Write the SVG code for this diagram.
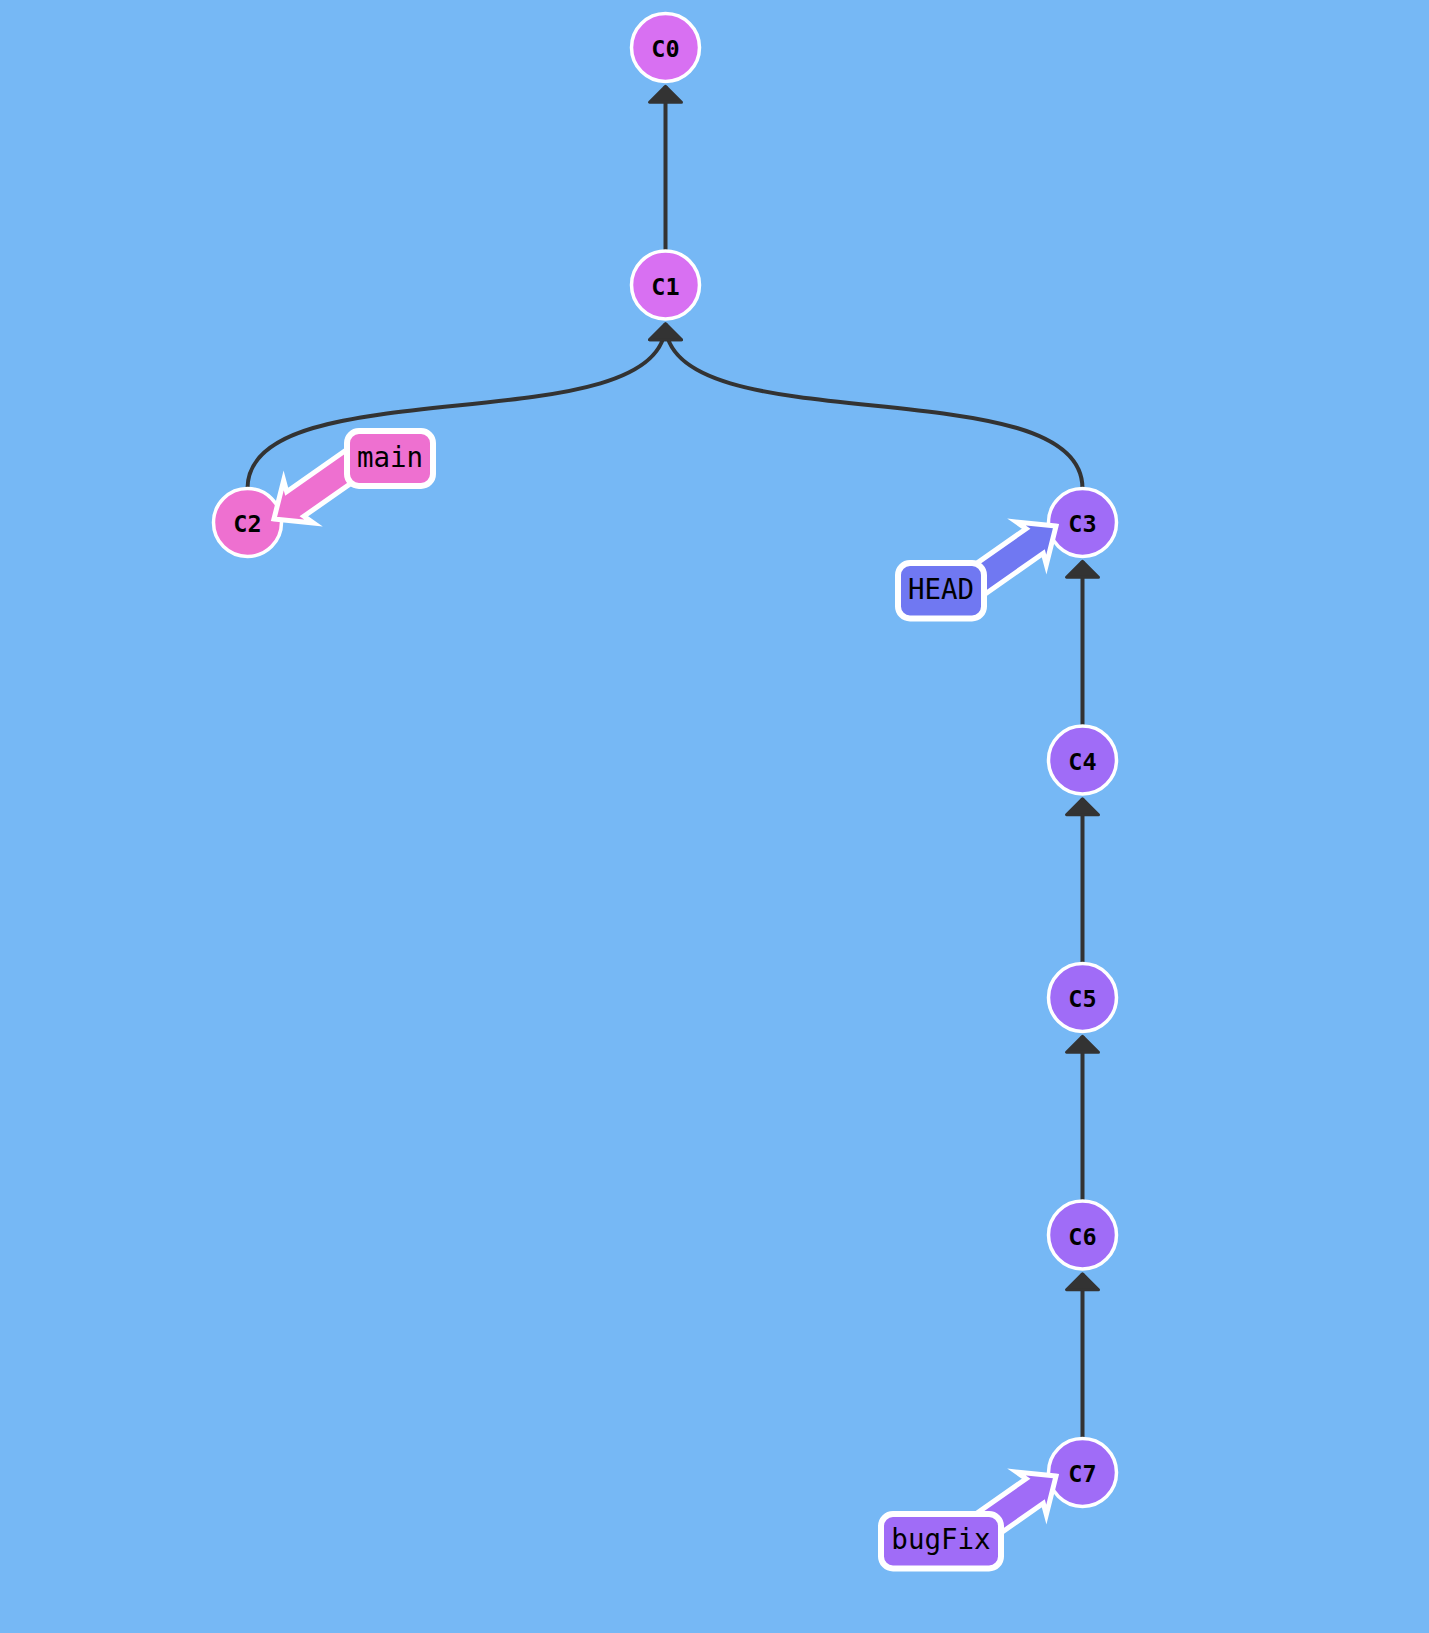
<svg xmlns="http://www.w3.org/2000/svg" width="1429" height="1633" viewBox="0 0 1429 1633">
<style>
.edge{fill:none;stroke:#333;stroke-width:4;marker-end:url(#ah)}
.node circle{stroke:#fff;stroke-width:3.5}
.node text{font-family:"DejaVu Sans Mono","Liberation Mono",monospace;font-weight:bold;font-size:23.5px;text-anchor:middle;fill:#000}
.ptr polygon{stroke:#fff;stroke-width:5;stroke-linejoin:miter;stroke-miterlimit:10}
.ptr rect{stroke:#fff;stroke-width:6}
.ptr text{font-family:"DejaVu Sans Mono","Liberation Mono",monospace;font-size:27.5px;text-anchor:middle;fill:#000}
.c01{fill:#d870f2}
.cpink{fill:#ee70d0}
.cpurp{fill:#a06cf7}
.chead{fill:#7078f2}
</style>
<defs>
<marker id="ah" markerUnits="userSpaceOnUse" orient="auto" markerWidth="40" markerHeight="40" viewBox="-20 -20 40 40" refX="0" refY="0" overflow="visible">
<path d="M0,0 L-16,-16 L-16,16 Z" fill="#333" stroke="#333" stroke-width="3" stroke-linejoin="round"/>
</marker>
</defs>
<rect x="0" y="0" width="1429" height="1633" fill="#76b8f5"/>
<g id="connectors">
<path class="edge" d="M665.5,251 L665.5,86.3"/>
<path class="edge" d="M247.5,488.5 C247.5,366 665.5,445 665.5,323.8"/>
<path class="edge" d="M1082.5,488.5 C1082.5,366 665.5,445 665.5,323.8"/>
<path class="edge" d="M1082.5,726 L1082.5,561.3"/>
<path class="edge" d="M1082.5,963.5 L1082.5,798.8"/>
<path class="edge" d="M1082.5,1201 L1082.5,1036.3"/>
<path class="edge" d="M1082.5,1438.5 L1082.5,1273.8"/>
</g>
<g id="C0" class="node"><circle class="c01" cx="665.5" cy="47.5" r="34"/><text x="665.5" y="57">C0</text></g>
<g id="C1" class="node"><circle class="c01" cx="665.5" cy="285" r="34"/><text x="665.5" y="294.5">C1</text></g>
<g id="C2" class="node"><circle class="cpink" cx="247.5" cy="522.5" r="34"/><text x="247.5" y="532">C2</text></g>
<g id="C3" class="node"><circle class="cpurp" cx="1082.5" cy="522.5" r="34"/><text x="1082.5" y="532">C3</text></g>
<g id="C4" class="node"><circle class="cpurp" cx="1082.5" cy="760" r="34"/><text x="1082.5" y="769.5">C4</text></g>
<g id="C5" class="node"><circle class="cpurp" cx="1082.5" cy="997.5" r="34"/><text x="1082.5" y="1007">C5</text></g>
<g id="C6" class="node"><circle class="cpurp" cx="1082.5" cy="1235" r="34"/><text x="1082.5" y="1244.5">C6</text></g>
<g id="C7" class="node"><circle class="cpurp" cx="1082.5" cy="1472.5" r="34"/><text x="1082.5" y="1482">C7</text></g>
<g id="branch-main" class="ptr">
<polygon class="cpink" points="0,0 -30,-26 -26,-15 -120,-15 -120,15 -26,15 -30,26" transform="translate(274,518.9) rotate(145)"/>
<rect class="cpink" x="347" y="431" width="86" height="55" rx="12"/>
<text x="390" y="467">main</text>
</g>
<g id="HEAD" class="ptr">
<polygon class="chead" points="0,0 -30,-26 -26,-15 -120,-15 -120,15 -26,15 -30,26" transform="translate(1056,526.1) rotate(-35)"/>
<rect class="chead" x="898" y="563" width="86" height="55.5" rx="12"/>
<text x="941" y="598.5">HEAD</text>
</g>
<g id="branch-bugFix" class="ptr">
<polygon class="cpurp" points="0,0 -30,-26 -26,-15 -120,-15 -120,15 -26,15 -30,26" transform="translate(1056,1476.1) rotate(-35)"/>
<rect class="cpurp" x="881" y="1514" width="120" height="54.5" rx="12"/>
<text x="941" y="1549">bugFix</text>
</g>
</svg>
